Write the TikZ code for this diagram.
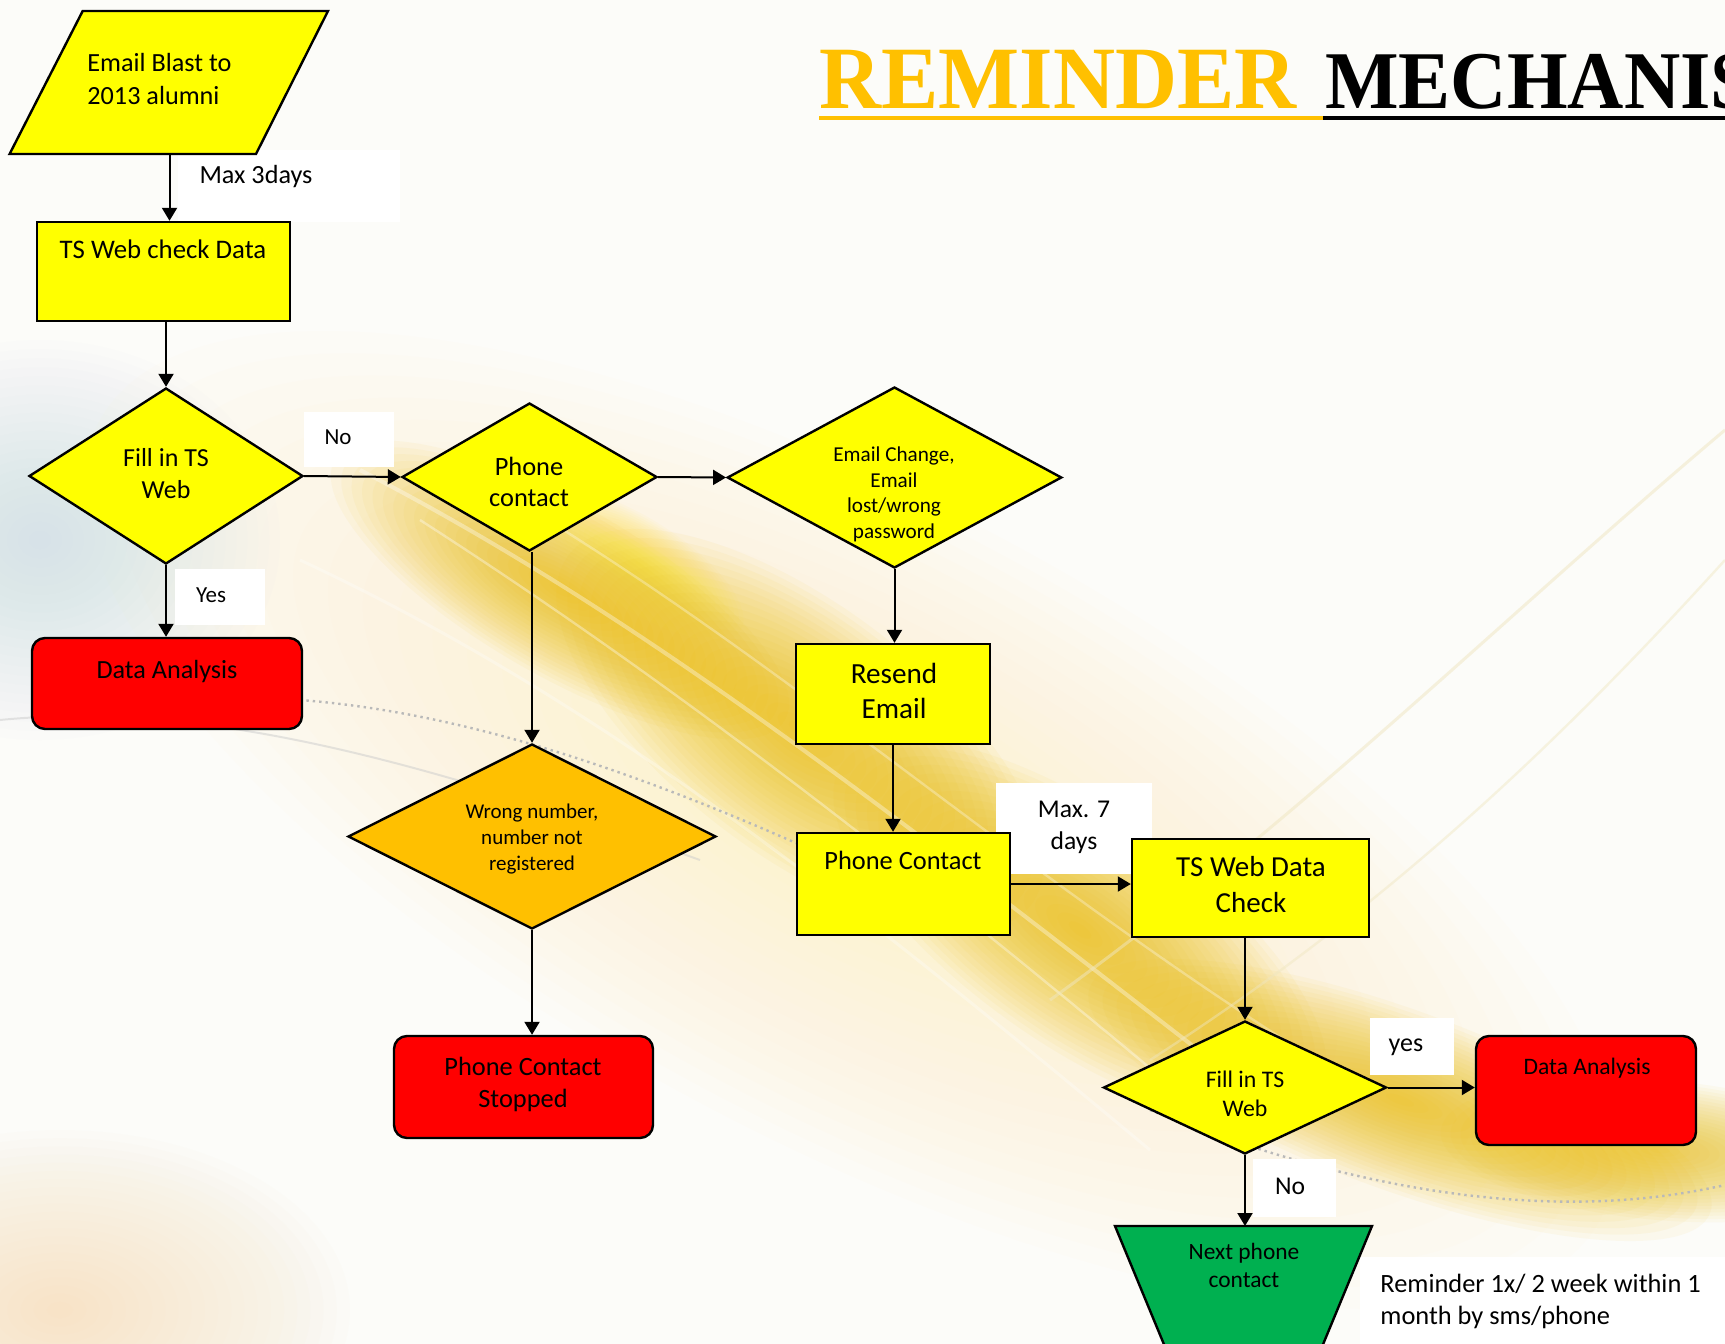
\documentclass[tikz,border=0pt]{standalone}
\usepackage{fontspec}
\setmainfont{Carlito}
\newfontfamily\titlefont{Liberation Serif}
\usetikzlibrary{arrows.meta,shapes.geometric,fit}
\definecolor{cyel}{HTML}{FFFF00}
\definecolor{cred}{HTML}{FF0000}
\definecolor{corange}{HTML}{FFC000}
\definecolor{cgreen}{HTML}{00B050}
\definecolor{cgold}{HTML}{FFC000}
\definecolor{bgbase}{HTML}{FCFCF9}
\definecolor{glowpale}{HTML}{FFF3B8}
\definecolor{glowblue}{HTML}{BFD6E8}
\definecolor{glowpeach}{HTML}{F8D8A8}
\definecolor{gold1}{HTML}{EDBB00}
\definecolor{gold2}{HTML}{FFE030}
\definecolor{arcc}{HTML}{EFE6C0}
\newcommand{\myfs}[2]{\fontsize{#1pt}{#2pt}\selectfont}
\newcommand{\glowE}[7]{\foreach \k in {1,...,22}{\fill[#6,opacity=#7,rotate around={#5:(#1,#2)}] (#1,#2) ellipse ({#3*((23-\k)/22)} and {#4*((23-\k)/22)});}}
\tikzset{
  box/.style={draw=black, line width=1.2pt, fill=cyel, inner sep=0pt},
  redbox/.style={box, fill=cred, rounded corners=6.5pt},
  dia/.style={diamond, draw=black, line width=1.2pt, fill=cyel, inner sep=0pt},
  wbox/.style={fill=white, inner sep=0pt},
  txt/.style={inner sep=0pt, align=center, text=black},
  arr/.style={line width=1pt, -{Triangle[length=6.5pt,width=7.5pt]}},
}
\begin{document}
\begin{tikzpicture}[x=0.5pt,y=-0.5pt]
\useasboundingbox (0,0) rectangle (1725,1344);
\clip (0,0) rectangle (1725,1344);
% ---------- background ----------
\fill[bgbase] (0,0) rectangle (1725,1344);
\glowE{850}{820}{850}{320}{-28}{glowpale}{0.04}
\glowE{40}{540}{240}{200}{0}{glowblue}{0.03}
\glowE{60}{1310}{290}{180}{0}{glowpeach}{0.03}
\glowE{560}{590}{260}{85}{-30}{gold1}{0.05}
\glowE{800}{730}{290}{125}{-37}{gold1}{0.05}
\glowE{1080}{930}{290}{115}{-35}{gold1}{0.05}
\glowE{1400}{1100}{330}{90}{-20}{gold1}{0.05}
\glowE{1660}{1150}{220}{70}{-5}{gold1}{0.045}
\glowE{640}{565}{120}{45}{-33}{gold2}{0.045}
\draw[white, line width=2pt, opacity=.35] (360,470) .. controls (650,620) and (900,820) .. (1250,1090);
\draw[white, line width=1.2pt, opacity=.35] (420,520) .. controls (700,700) and (950,900) .. (1200,1110);
\draw[white, line width=1.2pt, opacity=.3] (480,480) .. controls (760,640) and (1000,860) .. (1300,1050);
\draw[white, line width=1.5pt, opacity=.3] (300,560) .. controls (600,700) and (850,900) .. (1150,1150);
\draw[gray!55, dotted, line width=1.2pt] (300,700) .. controls (500,715) and (720,800) .. (980,930);
\draw[gray!40, line width=1pt, opacity=.5] (0,720) .. controls (200,700) and (420,760) .. (700,860);
\draw[gray!55, dotted, line width=1.2pt] (1150,1110) .. controls (1350,1190) and (1550,1225) .. (1725,1185);
\draw[arcc, line width=1.5pt, opacity=.5] (1050,1000) .. controls (1300,820) and (1500,620) .. (1725,430);
\draw[arcc, line width=1.2pt, opacity=.45] (1150,1060) .. controls (1400,900) and (1580,720) .. (1725,560);
% ---------- title ----------
\node[anchor=base west, inner sep=0pt, text=cgold, font=\titlefont\bfseries\myfs{44.5}{50}] (title1) at (819,108) {\scalebox{0.965}[1]{REMINDER}};
\node[anchor=base west, inner sep=0pt, text=black, font=\titlefont\bfseries\myfs{41}{46}] (title2) at (1325,108) {\scalebox{0.95}[1]{MECHANISM}};
\draw[cgold, line width=2pt] (819,118) -- (1323,118);
\draw[black, line width=2pt] (1323,118) -- (1725,118);
% ---------- white label boxes ----------
\node[wbox, fit={(178,150) (400,222)}] (lab1) {};
\node[wbox, fit={(304,412) (394,467)}] (lab2) {};
\node[wbox, fit={(175,569) (265,625)}] (lab3) {};
\node[wbox, fit={(996,783) (1152,874)}] (lab4) {};
\node[wbox, fit={(1370,1018) (1454,1075)}] (lab5) {};
\node[wbox, fit={(1253,1159) (1336,1217)}] (lab6) {};
\node[wbox, fit={(1360,1257) (1725,1344)}] (lab7) {};
% ---------- shapes ----------
\draw[box] (82.7,11) -- (328,11) -- (256,154) -- (9.6,154) -- cycle;
\coordinate (blastS) at (169.5,154);
\node[box, fit={(37,222) (290,321)}] (tsweb) {};
\node[dia, minimum width=137pt, minimum height=88pt] (fill1) at (166,476) {};
\node[redbox, fit={(32,638) (302,729)}] (da1) {};
\node[dia, minimum width=127.5pt, minimum height=74pt] (phone) at (529.5,477) {};
\node[dia, minimum width=167.25pt, minimum height=90.5pt] (email) at (894.5,477.5) {};
\node[box, fit={(796,644) (990,744)}] (resend) {};
\node[dia, fill=corange, minimum width=184pt, minimum height=92.5pt] (orange) at (532,836.5) {};
\node[redbox, fit={(394,1036) (653,1138)}] (stop) {};
\node[box, fit={(797,833) (1010,935)}] (pc) {};
\node[box, fit={(1132,839) (1369,937)}] (tsd) {};
\node[dia, minimum width=141.5pt, minimum height=66.5pt] (fill2) at (1245,1087.5) {};
\node[redbox, fit={(1476,1036) (1696,1145)}] (da2) {};
\draw[box, fill=cgreen] (1115,1226) -- (1372,1226) -- (1300,1400) -- (1187,1400) -- cycle;
\coordinate (nextN) at (1245,1226);
% ---------- connectors ----------
\draw[arr] (blastS) -- (blastS |- tsweb.north);
\draw[arr] (fill1.north |- tsweb.south) -- (fill1.north);
\draw[arr] (fill1.south) -- (fill1.south |- da1.north);
\draw[arr] (fill1.east) -- (phone.west);
\draw[arr] (phone.east) -- (email.west);
\draw[arr] (orange.north |- phone.south) -- (orange.north);
\draw[arr] (orange.south) -- (orange.south |- stop.north);
\draw[arr] (email.south) -- (email.south |- resend.north);
\draw[arr] (resend.south) -- (resend.south |- pc.north);
\draw[arr] (pc.east) -- (pc.east -| tsd.west);
\draw[arr] (fill2.north |- tsd.south) -- (fill2.north);
\draw[arr] (fill2.east) -- (fill2.east -| da2.west);
\draw[arr] (fill2.south) -- (nextN);
% ---------- texts ----------
\node[txt, align=left, anchor=west, font=\myfs{13.1}{16.2}] (blastT) at (87,79) {Email Blast to\\2013 alumni};
\node[txt, font=\myfs{13.1}{16}] (lab1T) at (256,177) {Max 3days};
\node[txt, font=\myfs{13.4}{16}] (tswebT) at (163,249) {TS Web check Data};
\node[txt, font=\myfs{13}{16}] (fill1T) at (166,474) {Fill in TS\\Web};
\node[txt, font=\myfs{11.5}{14}] (lab2T) at (338,437) {No};
\node[txt, font=\myfs{11.5}{14}] (lab3T) at (211,595) {Yes};
\node[txt, font=\myfs{13.1}{16}] (da1T) at (167,672) {Data Analysis};
\node[txt, font=\myfs{13.2}{15.5}] (phoneT) at (529,482) {Phone\\contact};
\node[txt, font=\myfs{10.6}{12.8}] (emailT) at (894,494.5) {Email Change,\\Email\\lost/wrong\\password};
\node[txt, font=\myfs{14.6}{17.5}] (resendT) at (894,690.5) {Resend\\Email};
\node[txt, font=\myfs{10.5}{13}] (orangeT) at (532,839) {Wrong number,\\number not\\registered};
\node[txt, font=\myfs{13.2}{16}] (stopT) at (523,1084) {Phone Contact\\Stopped};
\node[txt, font=\myfs{13.2}{16}] (pcT) at (903,860) {Phone Contact};
\node[txt, font=\myfs{12.8}{16}] (lab4T) at (1074,827) {Max. 7\\days};
\node[txt, font=\myfs{14.5}{18}] (tsdT) at (1251,885) {TS Web Data\\Check};
\node[txt, font=\myfs{11.9}{14.5}] (fill2T) at (1245,1093.5) {Fill in TS\\Web};
\node[txt, font=\myfs{13}{16}] (lab5T) at (1406,1047) {yes};
\node[txt, font=\myfs{11.8}{14}] (da2T) at (1587,1068) {Data Analysis};
\node[txt, font=\myfs{12.8}{16}] (lab6T) at (1290,1186) {No};
\node[txt, font=\myfs{11.7}{14}] (nextT) at (1244,1265) {Next phone\\contact};
\node[txt, align=left, anchor=west, font=\myfs{13.2}{16}] (lab7T) at (1380,1301) {Reminder 1x/ 2 week within 1\\month by sms/phone};
\end{tikzpicture}
\end{document}
